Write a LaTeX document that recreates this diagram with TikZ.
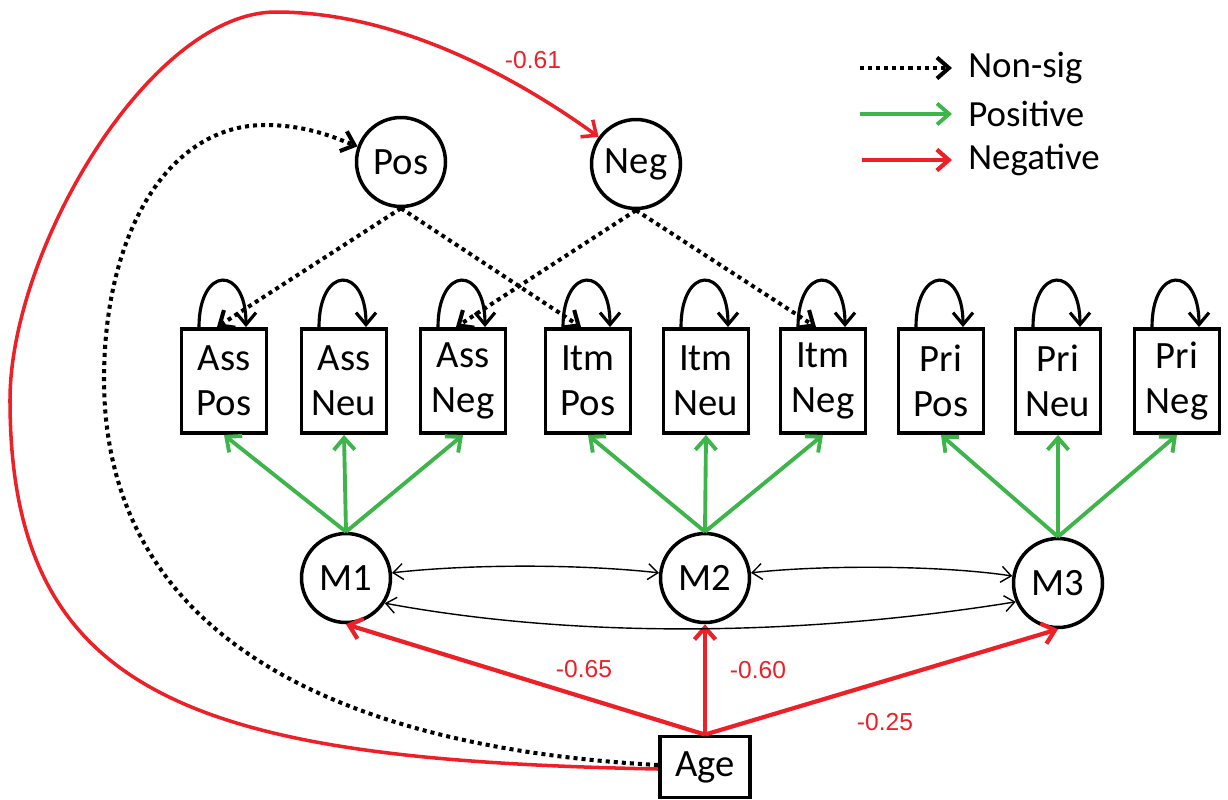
\documentclass[tikz,border=0pt]{standalone}
\usepackage{fontspec}
\setmainfont{Carlito}
\newfontfamily\numfont{Liberation Sans}
\usetikzlibrary{arrows.meta, calc}
\definecolor{sigpos}{RGB}{61,181,74}
\definecolor{signeg}{RGB}{237,32,39}

\begin{document}
\begin{tikzpicture}[
  x=0.02cm, y=-0.02cm,
  font=\fontsize{22}{25.6}\selectfont,
  obs/.style={draw, line width=2.2pt, minimum width=1.70cm, minimum height=2.08cm,
              inner sep=0pt, align=center},
  lat/.style={draw, circle, line width=2pt, minimum size=1.78cm, inner sep=0pt},
  tip/.style={-{Straight Barb[length=2.4mm, width=4.2mm]}},
  posarr/.style={tip, draw=sigpos, line width=2.2pt},
  negarr/.style={tip, draw=signeg, line width=2.4pt},
  nsarr/.style={tip, line width=2.3pt, dash pattern=on 2.3pt off 2.3pt},
  covarr/.style={{Straight Barb[length=2mm, width=3.2mm]}-{Straight Barb[length=2mm, width=3.2mm]},
                 line width=0.8pt},
  selfl/.style={-{Straight Barb[length=2.4mm, width=4mm]}, line width=1.8pt},
  coef/.style={font=\numfont\fontsize{14}{16}\selectfont, text=signeg},
  legtxt/.style={anchor=west, inner sep=0pt, font=\fontsize{21}{24}\selectfont},
]
\useasboundingbox (0,0) rectangle (1228,799);

%% latent factors on top
\node[lat] (pos) at (401,162) {Pos};
\node[lat] (neg) at (636,164) {Neg};

%% the nine observed scores
\node[obs] (assPos) at (224,381)  {Ass\\Pos};
\node[obs] (assNeu) at (344,381)  {Ass\\Neu};
\node[obs] (assNeg) at (463,381)  {Ass\\Neg};
\node[obs] (itmPos) at (588,381)  {Itm\\Pos};
\node[obs] (itmNeu) at (706,381)  {Itm\\Neu};
\node[obs] (itmNeg) at (823,381)  {Itm\\Neg};
\node[obs] (priPos) at (941,381)  {Pri\\Pos};
\node[obs] (priNeu) at (1058,381) {Pri\\Neu};
\node[obs] (priNeg) at (1177,381) {Pri\\Neg};

%% method factors and age
\node[lat] (m1) at (346,578)  {M1};
\node[lat] (m2) at (705,578)  {M2};
\node[lat] (m3) at (1058,583) {M3};
\node[obs, minimum width=1.8cm, minimum height=1.22cm] (age) at (705,767) {Age};

%% residual loops
\foreach \b in {assPos,assNeu,assNeg,itmPos,itmNeu,itmNeg,priPos,priNeu,priNeg} {
  \draw[selfl] ([xshift=-0.5cm]\b.north) .. controls +(0,-62) and +(0,-62)
    .. ([xshift=0.44cm]\b.north);
}

%% loadings
\foreach \m/\b in {m1/assPos,m1/assNeu,m1/assNeg,m2/itmPos,m2/itmNeu,m2/itmNeg,
                   m3/priPos,m3/priNeu,m3/priNeg}
  \draw[posarr] (\m.north) -- (\b.south);

\draw[nsarr] (pos.south) -- ([xshift=-0.14cm]assPos.north);
\draw[nsarr] (pos.south) -- ([xshift=-0.14cm]itmPos.north);
\draw[nsarr] (neg.south) -- ([xshift=-0.14cm]assNeg.north);
\draw[nsarr] (neg.south) -- ([xshift=-0.14cm]itmNeg.north);

%% age effects
\foreach \m in {m1,m2,m3}
  \draw[negarr] (age.north) -- (\m.south);

\draw[negarr, line width=2pt] ([yshift=-0.04cm]age.west)
  .. controls (200,760) and (10,700) .. (10,400)
  .. controls (10,250) and (150,12) .. (276,12)
  .. controls (400,12) and (520,80) .. (neg);
\draw[nsarr] ([yshift=0.04cm]age.west)
  .. controls (380,750) and (105,660) .. (104,380)
  .. controls (104,230) and (170,125) .. (265,125)
  .. controls (310,125) and (340,140) .. (pos);

%% correlations between methods
\draw[covarr] (m1) .. controls (470,564) and (580,564) .. (m2);
\draw[covarr] (m2) .. controls (820,565) and (940,565) .. (m3);
\draw[covarr] (m1.-33) .. controls (584,640) and (810,635) .. (m3.204);

%% coefficients
\node[coef] (c61) at (533,60)  {-0.61};
\node[coef] (c65) at (584,669) {-0.65};
\node[coef] (c60) at (758,670) {-0.60};
\node[coef] (c25) at (885,722) {-0.25};

%% legend
\node[legtxt] (lgNs)  at (968,68)  {Non-sig};
\node[legtxt] (lgPos) at (968,114) {Positive};
\node[legtxt] (lgNeg) at (968,160) {Negative};
\coordinate (nsA)  at (860,68);
\coordinate (posA) at (860,114);
\coordinate (negA) at (862,160);
\draw[nsarr, shorten >=0.32cm]  (nsA)  -- (lgNs.west);
\draw[posarr, shorten >=0.32cm] (posA) -- (lgPos.west);
\draw[negarr, shorten >=0.32cm] (negA) -- (lgNeg.west);
\end{tikzpicture}
\end{document}
